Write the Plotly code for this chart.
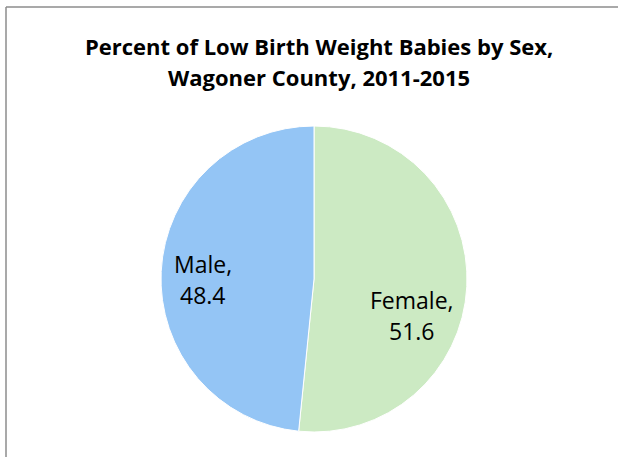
import plotly.graph_objects as go

categories = ["Female", "Male"]
values = [51.6, 48.4]
colors = ["#CCEAC3", "#94C5F5"]
title_lines = ["Percent of Low Birth Weight Babies by Sex,", "Wagoner County, 2011-2015"]

W, H = 618, 457
FONT = "Open Sans, Calibri, sans-serif"

# label centres (pixels) as in the reference layout: (x, y of first line)
label_pos = {"Female": (412, 300), "Male": (203, 264)}
LABEL_GAP = 31
title_y = [46, 77]

fig = go.Figure(go.Pie(
    labels=categories,
    values=values,
    sort=False,
    direction="clockwise",
    rotation=0,
    marker=dict(colors=colors, line=dict(color="white", width=1)),
    textinfo="none",
    hoverinfo="label+value",
    showlegend=False,
    domain=dict(x=[161 / W, 467 / W], y=[1 - 433 / H, 1 - 125 / H]),
))

annotations = []
for cat, val in zip(categories, values):
    px, py = label_pos[cat]
    for i, line in enumerate([f"{cat},", f"{val}"]):
        annotations.append(dict(
            text=line,
            x=px / W, y=1 - (py + i * LABEL_GAP) / H, xref="paper", yref="paper",
            xanchor="center", yanchor="middle", showarrow=False, align="center",
            font=dict(family=FONT, size=23, color="black"),
        ))

for line, ty in zip(title_lines, title_y):
    annotations.append(dict(
        text=f"<b>{line}</b>",
        x=319 / W, y=1 - ty / H, xref="paper", yref="paper",
        xanchor="center", yanchor="middle", showarrow=False,
        font=dict(family=FONT, size=22, color="black"),
    ))

fig.update_layout(
    width=W, height=H,
    margin=dict(l=0, r=0, t=0, b=0),
    paper_bgcolor="white",
    plot_bgcolor="white",
    annotations=annotations,
    shapes=[
        dict(type="line", xref="paper", yref="paper",
             x0=6 / W, x1=6 / W, y0=0, y1=1 - 7 / H,
             line=dict(color="#8C8C8C", width=1.5)),
        dict(type="line", xref="paper", yref="paper",
             x0=6 / W, x1=1, y0=1 - 7 / H, y1=1 - 7 / H,
             line=dict(color="#8C8C8C", width=1.5)),
    ],
)

fig.write_html("out.html", config={"displayModeBar": False},
               post_script="document.body.style.margin='0';")
